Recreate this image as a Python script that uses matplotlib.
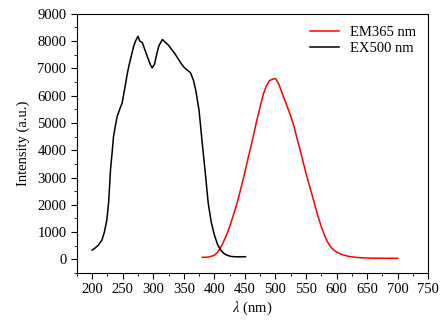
import matplotlib
matplotlib.use('Agg')
import matplotlib.pyplot as plt
from matplotlib.ticker import MultipleLocator

plt.rcParams['font.family'] = ['Liberation Serif', 'DejaVu Serif']
plt.rcParams['mathtext.fontset'] = 'stix'

# EX500 nm excitation spectrum (black)
ex_wl = [200, 205, 210, 216, 220, 224, 227, 230, 233, 235, 238, 241, 245, 249,
         252, 255, 257, 260, 264, 268, 271, 275, 278, 282, 286, 290, 295, 298,
         302, 306, 309, 315, 320, 325, 330, 335, 340, 345, 350, 355, 361, 366,
         370, 375, 380, 385, 390, 395, 400, 405, 410, 415, 420, 427, 435, 445, 451]
ex_int = [340, 420, 520, 710, 1000, 1440, 2100, 3280, 4000, 4510, 4900, 5240,
          5500, 5730, 6100, 6470, 6750, 7080, 7450, 7820, 8000, 8180, 8000, 7950,
          7700, 7450, 7150, 7020, 7150, 7550, 7820, 8060, 7950, 7850, 7700, 7550,
          7380, 7200, 7050, 6950, 6840, 6550, 6150, 5450, 4300, 3200, 2050, 1350,
          900, 560, 350, 230, 160, 110, 95, 95, 100]

# EM365 nm emission spectrum (red)
em_wl = [380, 390, 400, 405, 410, 415, 420, 425, 430, 435, 440, 445, 450, 455,
         460, 465, 470, 475, 480, 485, 490, 495, 500, 505, 510, 515, 520, 525,
         530, 535, 540, 545, 550, 555, 560, 565, 570, 575, 580, 585, 590, 595,
         600, 610, 620, 630, 640, 660, 700]
em_int = [75, 85, 150, 260, 430, 650, 900, 1200, 1550, 1900, 2300, 2750, 3200,
          3700, 4150, 4650, 5150, 5600, 6050, 6350, 6550, 6600, 6630, 6450, 6150,
          5850, 5550, 5250, 4900, 4450, 4050, 3600, 3150, 2750, 2350, 1950, 1550,
          1200, 900, 650, 470, 350, 270, 170, 110, 80, 60, 45, 40]

fig, ax = plt.subplots(figsize=(4.47, 3.22), dpi=100)
fig.subplots_adjust(left=0.172, right=0.958, top=0.957, bottom=0.152)

ax.plot(em_wl, em_int, color='#ff0000', lw=1.1, label='EM365 nm')
ax.plot(ex_wl, ex_int, color='black', lw=1.1, label='EX500 nm')

ax.set_xlim(175, 750)
ax.set_ylim(-500, 9000)
ax.xaxis.set_major_locator(MultipleLocator(50))
ax.xaxis.set_minor_locator(MultipleLocator(25))
ax.yaxis.set_major_locator(MultipleLocator(1000))
ax.yaxis.set_minor_locator(MultipleLocator(500))
ax.tick_params(which='both', direction='out', labelsize=10.5)
ax.tick_params(which='major', length=4)
ax.tick_params(which='minor', length=2)

ax.set_xlabel(r'$\lambda$ (nm)', fontsize=10.5, labelpad=2)
ax.set_ylabel('Intensity (a.u.)', fontsize=10.5, labelpad=5)

ax.legend(loc='upper right', frameon=False, fontsize=10.5, handlelength=2.0,
          borderaxespad=0.4, labelspacing=0.2)

fig.savefig('out.png', dpi=100)
